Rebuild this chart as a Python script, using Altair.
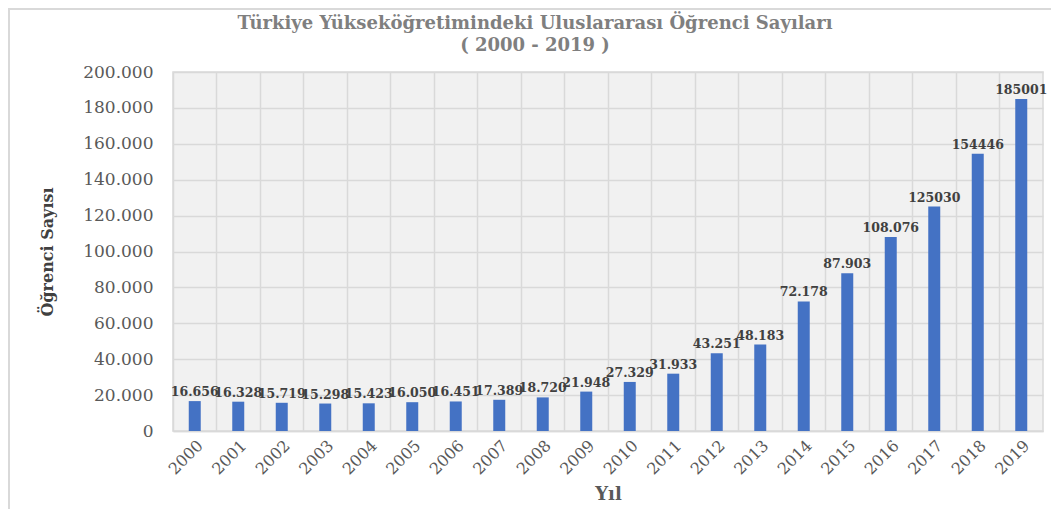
import altair as alt
import pandas as pd

years = [str(y) for y in range(2000, 2020)]
values = [16656, 16328, 15719, 15298, 15423, 16050, 16451, 17389, 18720, 21948,
          27329, 31933, 43251, 48183, 72178, 87903, 108076, 125030, 154446, 185001]
labels = ["16.656", "16.328", "15.719", "15.298", "15.423", "16.050", "16.451", "17.389",
          "18.720", "21.948", "27.329", "31.933", "43.251", "48.183", "72.178", "87.903",
          "108.076", "125030", "154446", "185001"]

df = pd.DataFrame({"Yıl": years, "Sayı": values, "Etiket": labels})

FONT = "DejaVu Serif"
W, H = 870, 359

x = alt.X("Yıl:N", sort=None,
          scale=alt.Scale(paddingInner=0, paddingOuter=0),
          axis=alt.Axis(title="Yıl", labelAngle=-45, labelFont=FONT, labelFontSize=16,
                        labelColor="#595959", labelPadding=6, ticks=False,
                        domain=True, domainColor="#d9d9d9", domainWidth=1.5,
                        grid=True, gridColor="#d9d9d9", gridWidth=1.5, bandPosition=0,
                        titleFont=FONT, titleFontSize=18, titleFontWeight="bold",
                        titleColor="#595959", titleY=63, titleBaseline="middle"))
y = alt.Y("Sayı:Q",
          scale=alt.Scale(domain=[0, 200000]),
          axis=alt.Axis(title="Öğrenci Sayısı", values=list(range(0, 200001, 20000)),
                        labelExpr="replace(format(datum.value, ','), ',', '.')",
                        labelFont=FONT, labelFontSize=17, labelColor="#595959",
                        labelPadding=20, ticks=False, domain=False,
                        grid=True, gridColor="#d9d9d9", gridWidth=1.5,
                        titleFont=FONT, titleFontSize=16, titleFontWeight="bold",
                        titleColor="#404040", titleX=-126, titleY=H / 2,
                        titleAngle=-90, titleBaseline="middle"))

base = alt.Chart(df)

bars = base.mark_bar(color="#4472c4", size=12).encode(x=x, y=y)
text = base.mark_text(font=FONT, fontSize=12.5, fontWeight="bold", color="#404040",
                      dy=-9).encode(x=x, y=y, text="Etiket:N")

frame = alt.Chart(pd.DataFrame({"k": [0]})).mark_rect(
    fill=None, stroke="#d9d9d9", strokeWidth=2).encode(
    x=alt.value(-164), x2=alt.value(W + 20),
    y=alt.value(-63), y2=alt.value(H + 89))

chart = alt.layer(bars, text, frame).properties(
    width=W, height=H,
    title=alt.TitleParams(
        text=["Türkiye Yükseköğretimindeki Uluslararası Öğrenci Sayıları", "( 2000 - 2019 )"],
        font=FONT, fontSize=18, fontWeight="bold", color="#7f7f7f",
        anchor="middle", dx=-73, offset=-47, lineHeight=22),
    autosize=alt.AutoSizeParams(type="none"),
    padding={"left": 165, "top": 64, "right": 8, "bottom": 78},
).configure_view(fill="#f1f1f1", stroke="#d9d9d9", strokeWidth=1.5)

chart.save("out.html", embed_options={"renderer": "svg", "actions": False})
